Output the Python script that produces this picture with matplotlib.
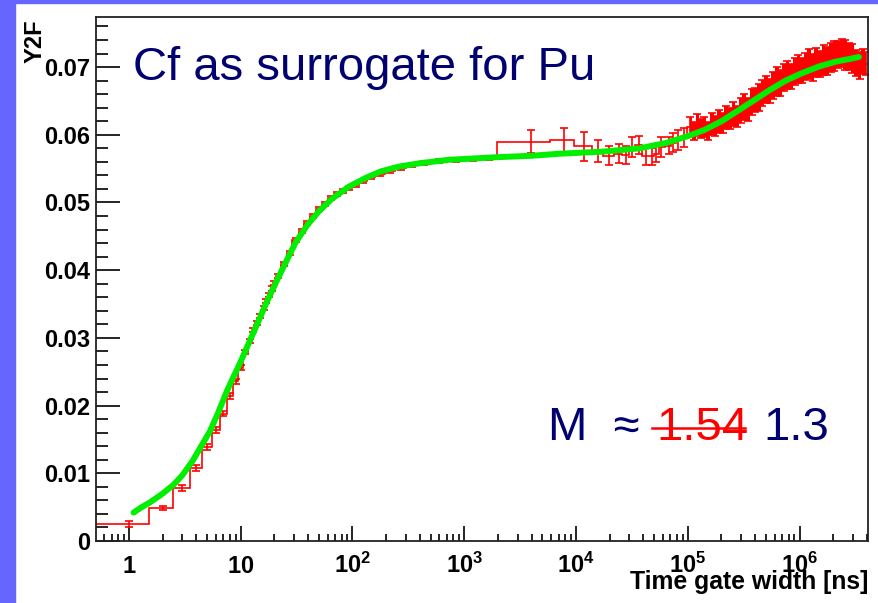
import matplotlib
matplotlib.use("Agg")
import matplotlib.pyplot as plt
import numpy as np
from matplotlib.lines import Line2D
from matplotlib.patches import Rectangle

plt.rcParams["font.family"] = ["Liberation Sans", "DejaVu Sans"]
plt.rcParams["mathtext.fontset"] = "custom"
plt.rcParams["mathtext.rm"] = "Liberation Sans:bold"
plt.rcParams["mathtext.it"] = "Liberation Sans:bold"
plt.rcParams["mathtext.bf"] = "Liberation Sans:bold"
plt.rcParams["mathtext.default"] = "rm"

# ---- values ----
# first bins are 1 ns wide, centred on the integers
fine_centers = [1, 2, 3, 4, 5, 6, 7, 8, 9, 10, 11, 12, 13, 14, 15, 16, 17, 18, 19, 20]
fine_vals = [0.0025, 0.0049, 0.0078, 0.0108, 0.0139, 0.0164, 0.0188, 0.0214, 0.0236, 0.0256,
             0.0279, 0.0296, 0.0311, 0.0322, 0.0333, 0.0344, 0.0354, 0.0364, 0.0373, 0.0381]
fine_errs = [0.0004, 0.0003, 0.0004, 0.0004, 0.0004, 0.0004, 0.0004, 0.0004, 0.0004, 0.0004,
             0.0003, 0.0003, 0.0003, 0.0003, 0.0003, 0.0003, 0.0003, 0.0003, 0.0003, 0.0003]

# bins between ~20 ns and ~2 us (edges in ns)
mid_edges = [20.5, 23, 26, 29, 33, 37, 42, 47, 53, 60, 68, 77, 87, 100, 115, 135, 160,
             195, 240, 300, 380, 500, 700, 1000, 1400, 1950]
mid_vals = [0.0391, 0.0409, 0.0425, 0.0444, 0.0458, 0.0470, 0.0480, 0.0490, 0.0498, 0.0506,
            0.0512, 0.0517, 0.0521, 0.0526, 0.0532, 0.0537, 0.0542, 0.0547, 0.0551, 0.0555,
            0.0558, 0.0561, 0.0563, 0.0564, 0.0566]
mid_errs = [0.0003, 0.0003, 0.0003, 0.0003, 0.0003, 0.0003, 0.0003, 0.0003, 0.0003, 0.0003,
            0.0003, 0.0003, 0.0003, 0.0003, 0.0003, 0.0003, 0.0003, 0.0003, 0.0003, 0.0003,
            0.0003, 0.0003, 0.0003, 0.0003, 0.0003]

# a few wide bins around 1e4 ns
wide_edges = [1950, 5900, 9600, 14000, 17500]
wide_vals = [0.0590, 0.0592, 0.0583, 0.0576]
wide_errs = [0.0017, 0.0018, 0.0021, 0.0016]

# narrow bins from 2e4 ns to the end (bin centres)
tail_x = [19700, 24200, 27900, 31600, 36500, 42000, 48000, 52000, 58000, 68000, 74000,
          82000, 92000]
tail_y = [0.0569, 0.0572, 0.0570, 0.0582, 0.0585, 0.0569, 0.0568, 0.0572, 0.0582, 0.0584,
          0.0588, 0.0592, 0.0596]
tail_err = [0.0014, 0.0014, 0.0013, 0.0015, 0.0013, 0.0013, 0.0013, 0.0012, 0.0015, 0.0013,
            0.0014, 0.0015, 0.0014]

dense_x = [105000, 113000, 122000, 131000, 141000, 152000, 164000, 177000, 190000, 205000,
           221000, 238000, 256000, 276000, 297000, 320000, 345000, 372000, 400000, 431000,
           465000, 500000, 540000, 580000, 625000, 675000, 725000, 780000, 840000, 905000,
           975000, 1050000, 1130000, 1220000, 1310000, 1410000, 1520000, 1640000, 1770000,
           1900000, 2050000, 2210000, 2380000, 2560000, 2760000, 2970000, 3200000, 3450000,
           3720000, 3950000]
dense_y = [0.0612, 0.0606, 0.0614, 0.0609, 0.0612, 0.0606, 0.0616, 0.0613, 0.0620, 0.0617,
           0.0626, 0.0624, 0.0631, 0.0627, 0.0636, 0.0641, 0.0638, 0.0648, 0.0651, 0.0655,
           0.0662, 0.0667, 0.0665, 0.0673, 0.0679, 0.0676, 0.0684, 0.0688, 0.0686, 0.0693,
           0.0697, 0.0695, 0.0701, 0.0704, 0.0700, 0.0707, 0.0705, 0.0711, 0.0709, 0.0714,
           0.0716, 0.0719, 0.0721, 0.0718, 0.0716, 0.0713, 0.0706, 0.0703, 0.0708, 0.0705]
dense_err = [0.0015, 0.0013, 0.0016, 0.0014, 0.0015, 0.0013, 0.0016, 0.0015, 0.0017, 0.0015,
             0.0017, 0.0016, 0.0018, 0.0016, 0.0018, 0.0019, 0.0017, 0.0019, 0.0018, 0.0020,
             0.0019, 0.0020, 0.0018, 0.0020, 0.0021, 0.0019, 0.0020, 0.0021, 0.0019, 0.0020,
             0.0021, 0.0019, 0.0020, 0.0022, 0.0020, 0.0021, 0.0019, 0.0022, 0.0020, 0.0021,
             0.0022, 0.0020, 0.0021, 0.0022, 0.0020, 0.0021, 0.0019, 0.0020, 0.0018, 0.0017]

# fitted curve (green)
fit_x = [1.1, 1.3, 1.54, 2.0, 2.5, 3.0, 3.7, 4.5, 5.3, 6.3, 7.5, 8.7, 10, 11.5, 13, 14.7,
         17, 20.8, 25, 31, 40, 50, 65, 92, 130, 180, 260, 400, 720, 1200, 2000, 4000, 7000,
         17000, 37000, 64000, 100000, 140000, 200000, 290000, 400000, 540000, 750000,
         1050000, 1500000, 2100000, 2800000, 3400000]
fit_y = [0.0042, 0.0050, 0.0057, 0.0070, 0.0083, 0.0097, 0.0118, 0.0142, 0.0162, 0.0190,
         0.0221, 0.0244, 0.0265, 0.0288, 0.0308, 0.0328, 0.0352, 0.0383, 0.0410, 0.0441,
         0.0468, 0.0487, 0.0505, 0.0523, 0.0536, 0.0546, 0.0553, 0.0558, 0.0563, 0.0565,
         0.0567, 0.0569, 0.0572, 0.0575, 0.0580, 0.0588, 0.0598, 0.0607, 0.0620, 0.0637,
         0.0652, 0.0666, 0.0680, 0.0691, 0.0701, 0.0708, 0.0712, 0.0715]

y_ticks = [0, 0.01, 0.02, 0.03, 0.04, 0.05, 0.06, 0.07]
y_ticklabels = ["0", "0.01", "0.02", "0.03", "0.04", "0.05", "0.06", "0.07"]
x_ticks = [1, 10, 100, 1000, 10000, 100000, 1000000]
x_ticklabels = ["$1$", "$10$", "$10^{2}$", "$10^{3}$", "$10^{4}$", "$10^{5}$", "$10^{6}$"]

# ---- assemble histogram ----
fc = np.array(fine_centers, dtype=float)
fine_edges = np.append(fc - 0.5, fc[-1] + 0.5)
high_x = np.array(tail_x + dense_x, dtype=float)
high_y = np.array(tail_y + dense_y)
high_err = np.array(tail_err + dense_err)
high_edges = np.sqrt(high_x[:-1] * high_x[1:])
high_edges = np.concatenate([[wide_edges[-1]], high_edges, [4.1e6]])

edges = np.concatenate([fine_edges, mid_edges[1:], wide_edges[1:], high_edges[1:]])
vals = np.concatenate([fine_vals, mid_vals, wide_vals, high_y])

me = np.array(mid_edges)
we = np.array(wide_edges)
err_x = np.concatenate([fc, (me[:-1] + me[1:]) / 2, (we[:-1] + we[1:]) / 2, high_x])
err_y = np.concatenate([fine_vals, mid_vals, wide_vals, high_y])
err_e = np.concatenate([fine_errs, mid_errs, wide_errs, high_err])

W, H = 879, 603
fig = plt.figure(figsize=(W / 100, H / 100), dpi=100)
fig.patch.set_facecolor("white")
# blue frame strips of the slide
fig.add_artist(Rectangle((0, 0), 15 / W, 1, transform=fig.transFigure,
                         color="#6666ff", zorder=0))
fig.add_artist(Rectangle((0, 1 - 3 / H), 1, 3 / H, transform=fig.transFigure,
                         color="#6666ff", zorder=0))

ax = fig.add_axes([96 / W, 1 - 541 / H, (868 - 96) / W, (541 - 17) / H])
ax.set_xscale("log")
ax.set_xlim(0.507, 4.1e6)
ax.set_ylim(0, 0.0774)

ax.stairs(vals, edges, color="red", lw=1.2, baseline=None, zorder=2)
ax.errorbar(err_x, err_y, yerr=err_e, fmt="none", ecolor="red", elinewidth=1.2,
            capsize=2.6, capthick=1.2, zorder=2)
# the many narrow bins above 1e5 ns merge into a solid band
dx = np.array(dense_x, dtype=float)
dy = np.array(dense_y)
de = np.array(dense_err)
ax.fill_between(dx, dy - de, dy + de, step="mid", color="red", lw=0, zorder=2)
ax.plot(fit_x, fit_y, color="#00ee00", lw=4.3, solid_capstyle="round", zorder=3)

for s in ax.spines.values():
    s.set_linewidth(1.3)
    s.set_color("#222222")

ax.set_yticks(y_ticks, y_ticklabels)
ax.set_yticks(np.arange(0, 0.0775, 0.002), minor=True)
ax.set_xticks(x_ticks, x_ticklabels)
ax.tick_params(axis="y", which="major", direction="in", length=17, width=1.2,
               labelsize=17, pad=4)
ax.tick_params(axis="y", which="minor", direction="in", length=8.5, width=1.2)
ax.tick_params(axis="x", which="major", direction="in", length=11, width=1.2,
               labelsize=17, pad=23)
ax.tick_params(axis="x", which="minor", direction="in", length=5, width=1.2,
               labelbottom=False)
for lab in ax.get_yticklabels():
    lab.set_fontweight("bold")
for lab in ax.get_xticklabels():
    lab.set_fontweight("bold")
    lab.set_verticalalignment("baseline")

fig.text(35 / W, 1 - 19 / H, "Y2F", rotation=90, ha="center", va="top",
         fontsize=17, fontweight="bold")
fig.text(868 / W, 1 - 589 / H, "Time gate width [ns]", ha="right", va="baseline",
         fontsize=17.8, fontweight="bold")

navy = "#000070"
fig.text(133 / W, 1 - 80 / H, "Cf as surrogate for Pu", ha="left", va="baseline",
         fontsize=34, color=navy)
fig.text(548 / W, 1 - 440 / H, "M  \u2248", ha="left", va="baseline", fontsize=34,
         color=navy)
fig.text(656 / W, 1 - 440 / H, "1.54", ha="left", va="baseline", fontsize=34,
         color="red")
fig.text(763 / W, 1 - 440 / H, "1.3", ha="left", va="baseline", fontsize=34,
         color=navy)
fig.add_artist(Line2D([652 / W, 745 / W], [1 - 428 / H, 1 - 428 / H],
                      transform=fig.transFigure, color="red", lw=1.8))

fig.savefig("out.png", dpi=100)
